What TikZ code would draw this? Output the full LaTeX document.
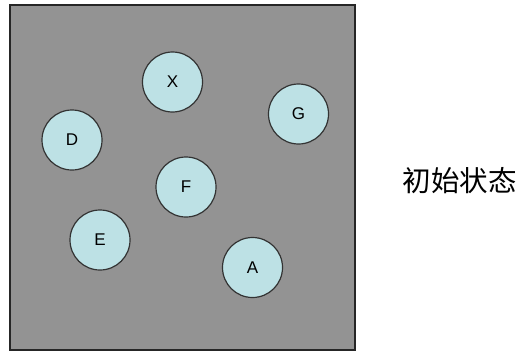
\documentclass[tikz,border=0pt]{standalone}
\usepackage{fontspec}
\setmainfont{Liberation Sans}
\newfontfamily\cjk{Noto Sans CJK SC}
\definecolor{boxgray}{HTML}{939393}
\definecolor{ballfill}{HTML}{BDE1E5}
\definecolor{edgegray}{HTML}{333333}
\begin{document}
\begin{tikzpicture}[x=1pt,y=-1pt,
  ball/.style={circle,draw=edgegray,line width=1.2pt,fill=ballfill,minimum size=60pt,inner sep=0pt,font=\fontsize{17}{17}\selectfont}]
\useasboundingbox (0,0) rectangle (518,353);
\node[draw=black!85,line width=1.2pt,fill=boxgray,minimum width=345pt,minimum height=345pt,inner sep=0pt] (frame) at (182.5,177.5) {};
\node[ball] (X) at (172.5,82) {X};
\node[ball] (G) at (298.5,114) {G};
\node[ball] (D) at (72,140) {D};
\node[ball] (F) at (186,187) {F};
\node[ball] (E) at (100,240) {E};
\node[ball] (A) at (252.5,267.5) {A};
\node[font=\cjk\fontsize{28.5}{28.5}\selectfont] (label) at (459.5,181) {初始状态};
\end{tikzpicture}
\end{document}
